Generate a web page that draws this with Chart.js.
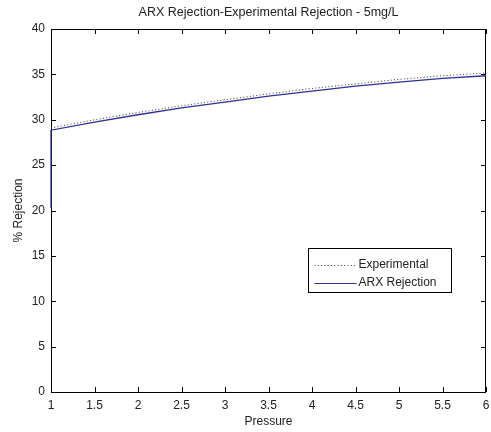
<!DOCTYPE html>
<html>
<head>
<meta charset="utf-8">
<script src="https://cdn.jsdelivr.net/npm/chart.js@4/dist/chart.umd.min.js"></script>
<style>
html,body{margin:0;padding:0;background:#fff;}
#wrap{width:491px;height:432px;}
</style>
</head>
<body>
<div id="wrap"><canvas id="c" width="491" height="432"></canvas></div>
<script>
// ---- data ----
const chartTitle = 'ARX Rejection-Experimental Rejection - 5mg/L';
const xTitle = 'Pressure';
const yTitle = '% Rejection';
const expLabel = 'Experimental';
const arxLabel = 'ARX Rejection';
const expPressure = [1, 1.5, 2, 2.5, 3, 3.5, 4, 4.5, 5, 5.5, 6];
const expRejection = [29.1, 30.0, 30.8, 31.55, 32.2, 32.85, 33.45, 33.95, 34.45, 34.85, 35.15];
const arxPressure = [1, 1, 1.5, 2, 2.5, 3, 3.5, 4, 4.5, 5, 5.5, 6];
const arxRejection = [20.3, 28.85, 29.75, 30.55, 31.3, 31.95, 32.6, 33.15, 33.7, 34.15, 34.55, 34.85];
const xTicks = [1, 1.5, 2, 2.5, 3, 3.5, 4, 4.5, 5, 5.5, 6];
const yTicks = [0, 5, 10, 15, 20, 25, 30, 35, 40];

const FONT = '"Liberation Sans", Arial, sans-serif';
const TXT = '#222';
const ARX_COLOR = '#2f2f96';
const EXP_COLOR = '#333';
const EXP_DASH = [1, 2.3];

const pts = (xs, ys) => xs.map((x, i) => ({x, y: ys[i]}));

const matlabPlugin = {
  id: 'matlab',
  beforeDatasetsDraw(chart) {
    const {ctx, chartArea: a, scales: {x, y}} = chart;
    ctx.save();
    ctx.strokeStyle = '#000';
    ctx.lineWidth = 1;
    ctx.strokeRect(Math.round(a.left) + 0.5, Math.round(a.top) + 0.5, Math.round(a.right - a.left) - 1, Math.round(a.bottom - a.top));
    const L = 5;
    ctx.beginPath();
    xTicks.forEach(v => {
      const px = Math.round(x.getPixelForValue(v)) + 0.5;
      ctx.moveTo(px, a.bottom); ctx.lineTo(px, a.bottom - L);
      ctx.moveTo(px, a.top); ctx.lineTo(px, a.top + L);
    });
    yTicks.forEach(v => {
      const py = Math.round(y.getPixelForValue(v)) + 0.5;
      ctx.moveTo(a.left, py); ctx.lineTo(a.left + L, py);
      ctx.moveTo(a.right, py); ctx.lineTo(a.right - L, py);
    });
    ctx.stroke();
    ctx.fillStyle = TXT;
    ctx.font = '12.5px ' + FONT;
    ctx.textAlign = 'center';
    ctx.textBaseline = 'middle';
    ctx.fillText(chartTitle, (a.left + a.right) / 2, 12.5);
    ctx.restore();
  },
  afterDraw(chart) {
    const {ctx, chartArea: a} = chart;
    ctx.save();
    ctx.font = '12px ' + FONT;
    const bx = Math.round(a.right) - 177.5, by = Math.round(a.bottom) - 143.5, bw = 143, bh = 44;
    ctx.fillStyle = '#fff';
    ctx.fillRect(bx, by, bw, bh);
    ctx.strokeStyle = '#000';
    ctx.lineWidth = 1;
    ctx.strokeRect(bx, by, bw, bh);
    const ds = chart.data.datasets;
    const rows = [by + 16, by + 34];
    ds.forEach((d, i) => {
      ctx.beginPath();
      ctx.strokeStyle = d.borderColor;
      ctx.lineWidth = 1;
      ctx.setLineDash(d.borderDash || []);
      ctx.moveTo(bx + 6, Math.round(rows[i]) + 0.5);
      ctx.lineTo(bx + 48, Math.round(rows[i]) + 0.5);
      ctx.stroke();
      ctx.setLineDash([]);
      ctx.fillStyle = TXT;
      ctx.textAlign = 'left';
      ctx.textBaseline = 'middle';
      ctx.fillText(d.label, bx + 50, rows[i]);
    });
    ctx.restore();
  }
};

new Chart(document.getElementById('c'), {
  type: 'scatter',
  data: {
    datasets: [
      {label: expLabel, data: pts(expPressure, expRejection), showLine: true, borderColor: EXP_COLOR, borderWidth: 1, borderDash: EXP_DASH, pointRadius: 0, tension: 0, clip: false},
      {label: arxLabel, data: pts(arxPressure, arxRejection), showLine: true, borderColor: ARX_COLOR, borderWidth: 1.3, pointRadius: 0, tension: 0, clip: false}
    ]
  },
  options: {
    responsive: false,
    animation: false,
    devicePixelRatio: 1,
    layout: {padding: {top: 29, right: 5, left: 0, bottom: 0}},
    plugins: {legend: {display: false}, title: {display: false}, tooltip: {enabled: false}},
    scales: {
      x: {
        type: 'linear', min: 1, max: 6,
        afterFit(s) { s.height = 40; s.paddingLeft = 0; s.paddingRight = 0; },
        afterBuildTicks(s) { s.ticks = xTicks.map(v => ({value: v})); },
        grid: {display: false, drawTicks: false},
        border: {display: false},
        ticks: {padding: 6, color: TXT, font: {family: FONT, size: 12}, maxRotation: 0, autoSkip: false, callback: v => String(v)},
        title: {display: true, text: xTitle, color: TXT, font: {family: FONT, size: 12}, padding: {top: 0, bottom: 3}}
      },
      y: {
        type: 'linear', min: 0, max: 40,
        afterFit(s) { s.width = 51; s.paddingTop = 0; s.paddingBottom = 0; },
        afterBuildTicks(s) { s.ticks = yTicks.map(v => ({value: v})); },
        grid: {display: false, drawTicks: false},
        border: {display: false},
        ticks: {padding: 6, color: TXT, font: {family: FONT, size: 12}, autoSkip: false, callback: v => String(v)},
        title: {display: true, text: yTitle, color: TXT, font: {family: FONT, size: 12}, padding: {top: 11, bottom: 0}}
      }
    }
  },
  plugins: [matlabPlugin]
});
</script>
</body>
</html>
